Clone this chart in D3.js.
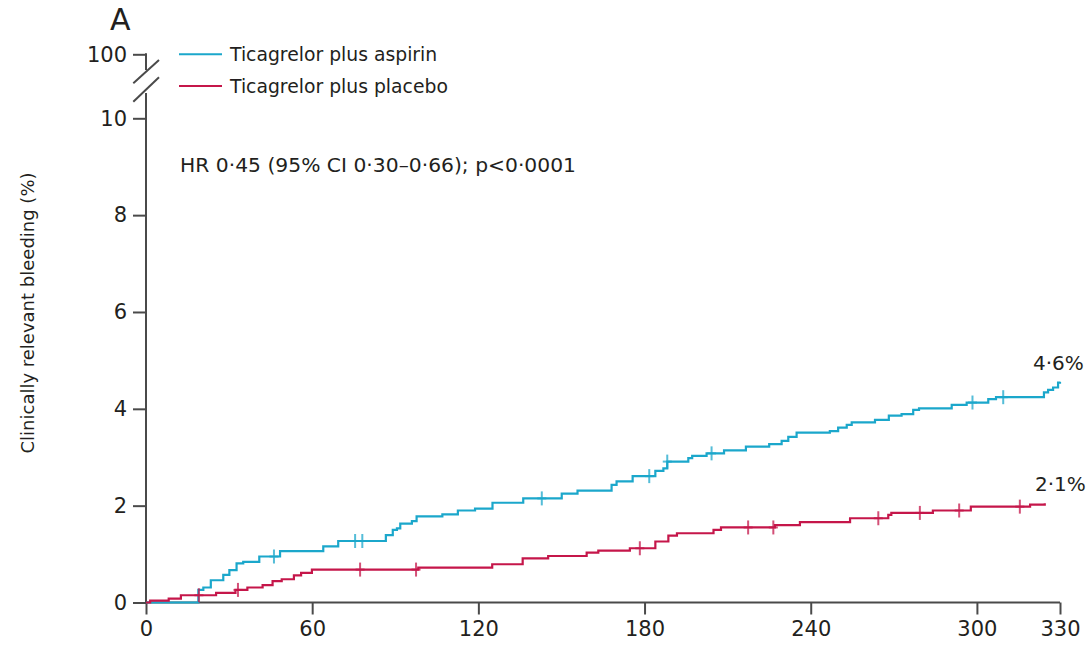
<!DOCTYPE html>
<html>
<head>
<meta charset="utf-8">
<script src="https://cdn.jsdelivr.net/npm/d3@7"></script>
<style>
  html, body { margin: 0; padding: 0; background: #fff; }
  svg { display: block; }
  text { font-family: "DejaVu Sans", sans-serif; fill: #231f20; }
</style>
</head>
<body>
<svg id="chart" width="1091" height="649"></svg>
<script>
// ---- data ----
const seriesNames = ["Ticagrelor plus aspirin", "Ticagrelor plus placebo"];
const seriesColors = ["#1ba7cb", "#c5164a"];
const endLabels = ["4·6%", "2·1%"];
const xTickValues = [0, 60, 120, 180, 240, 300, 330];
const yTickValues = [0, 2, 4, 6, 8, 10];
const yBreakTickValues = [100];
const annotation = "HR 0·45 (95% CI 0·30–0·66); p<0·0001";
const yTitle = "Clinically relevant bleeding (%)";
const panelLabel = "A";

const aspirinDays = [0, 18.9, 20.7, 23.4, 27.9, 30.1, 32.7, 35.1, 40.9, 48.4, 64.0, 69.4,
  86.6, 89.1, 90.6, 91.8, 96.0, 97.7, 107.0, 112.6, 118.8, 125.1, 136.2, 150.1, 155.8,
  168.1, 169.9, 175.7, 183.9, 186.8, 188.2, 195.8, 197.2, 202.4, 208.7, 216.6, 225.0,
  229.5, 231.9, 234.9, 246.9, 249.9, 253.0, 254.8, 263.2, 268.2, 272.8, 277.0, 279.1,
  290.9, 296.3, 304.1, 306.9, 324.2, 325.7, 327.5, 329.3, 330];
const aspirinPct = [0, 0.26, 0.31, 0.46, 0.57, 0.67, 0.81, 0.84, 0.95, 1.06, 1.16, 1.27,
  1.39, 1.50, 1.53, 1.63, 1.68, 1.78, 1.82, 1.90, 1.94, 2.06, 2.15, 2.25, 2.31,
  2.43, 2.50, 2.61, 2.72, 2.77, 2.91, 2.98, 3.03, 3.08, 3.14, 3.22, 3.27,
  3.34, 3.42, 3.51, 3.54, 3.61, 3.67, 3.72, 3.77, 3.86, 3.89, 3.98, 4.01,
  4.08, 4.13, 4.20, 4.24, 4.34, 4.39, 4.44, 4.54, 4.56];
const aspirinCensor = [46.2, 75.5, 78.1, 142.9, 181.7, 188.2, 204.2, 298.4, 309.5];

const placeboDays = [0, 1.5, 8.2, 12.6, 25.3, 32.3, 36.6, 42.1, 45.7, 49.0, 53.4, 56.0,
  59.9, 98.3, 125.0, 136.0, 145.2, 159.1, 163.3, 174.7, 183.9, 188.6, 191.7, 204.9,
  207.6, 227.1, 236.1, 254.2, 268.0, 269.1, 284.1, 297.8, 319.2, 324.5];
const placeboPct = [0, 0.04, 0.08, 0.15, 0.20, 0.26, 0.31, 0.36, 0.44, 0.48, 0.56, 0.61,
  0.68, 0.72, 0.79, 0.91, 0.96, 1.03, 1.07, 1.12, 1.26, 1.38, 1.43, 1.50,
  1.55, 1.60, 1.66, 1.74, 1.81, 1.85, 1.90, 1.98, 2.02, 2.05];
const placeboCensor = [19.1, 33.2, 77.3, 97.5, 178.3, 217.4, 226.5, 264.4, 279.4, 293.6, 315.5];

// ---- layout ----
const svg = d3.select("#chart");
const x = d3.scaleLinear().domain([0, 330]).range([146, 1060]);
const y = d3.scaleLinear().domain([0, 10]).range([602.5, 118.3]);
const yTop = d3.scaleLinear().domain([10, 100]).range([118.3, 54.3]);
const axisColor = "#4a4a4a";

// x axis
const gx = svg.append("g").attr("transform", `translate(0,${y(0)})`)
  .call(d3.axisBottom(x).tickValues(xTickValues).tickSize(12).tickPadding(6).tickFormat(d3.format("d")));
// y axis lower part
const gy = svg.append("g").attr("transform", `translate(${x(0)},0)`)
  .call(d3.axisLeft(y).tickValues(yTickValues).tickSize(13).tickPadding(6).tickFormat(d3.format("d")));
// y axis above the break
const gyTop = svg.append("g").attr("transform", `translate(${x(0)},0)`)
  .call(d3.axisLeft(yTop).tickValues(yBreakTickValues).tickSize(13).tickPadding(6).tickFormat(d3.format("d")));

[gx, gy, gyTop].forEach(g => {
  g.selectAll(".domain").remove();
  g.selectAll(".tick line").attr("stroke", axisColor).attr("stroke-width", 2);
  g.selectAll(".tick text").style("font-family", '"DejaVu Sans", sans-serif')
    .style("font-size", "21px").attr("fill", "#231f20");
});
gx.selectAll(".tick text").attr("dy", "0.72em");

// axis lines
svg.append("line").attr("x1", x(0)).attr("x2", x(330)).attr("y1", y(0)).attr("y2", y(0))
  .attr("stroke", axisColor).attr("stroke-width", 2);
svg.append("line").attr("x1", x(0)).attr("x2", x(0)).attr("y1", y(0) + 1).attr("y2", 93)
  .attr("stroke", axisColor).attr("stroke-width", 2);
svg.append("line").attr("x1", x(0)).attr("x2", x(0)).attr("y1", yTop(100) - 1).attr("y2", 70)
  .attr("stroke", axisColor).attr("stroke-width", 2);
// break marks
[[83.3, 60], [101.7, 77.3]].forEach(([ya, yb]) => {
  svg.append("line").attr("x1", x(0) - 12.7).attr("y1", ya).attr("x2", x(0) + 13).attr("y2", yb)
    .attr("stroke", axisColor).attr("stroke-width", 2);
});

// curves
const line = d3.line().curve(d3.curveStepAfter).x(d => x(d[0])).y(d => y(d[1]));
const series = [
  { days: aspirinDays, pct: aspirinPct, censor: aspirinCensor, color: seriesColors[0] },
  { days: placeboDays, pct: placeboPct, censor: placeboCensor, color: seriesColors[1] }
];
series.forEach(s => {
  const pts = s.days.map((d, i) => [d, s.pct[i]]);
  svg.append("path").datum(pts).attr("d", line).attr("fill", "none")
    .attr("stroke", s.color).attr("stroke-width", 2.2);
  const valueAt = t => s.pct[Math.max(0, d3.bisectRight(s.days, t) - 1)];
  const g = svg.append("g").attr("stroke", s.color).attr("stroke-width", 2).attr("opacity", 0.75);
  s.censor.forEach(t => {
    const cx = x(t), cy = y(valueAt(t));
    g.append("line").attr("x1", cx).attr("x2", cx).attr("y1", cy - 7).attr("y2", cy + 7);
    g.append("line").attr("x1", cx - 4.5).attr("x2", cx + 4.5).attr("y1", cy).attr("y2", cy);
  });
});

// end labels
svg.append("text").attr("x", 1033).attr("y", 370).style("font-size", "20px").text(endLabels[0]);
svg.append("text").attr("x", 1035).attr("y", 491).style("font-size", "20px").text(endLabels[1]);

// legend
seriesNames.forEach((name, i) => {
  const ly = [54.3, 86][i];
  svg.append("line").attr("x1", 179).attr("x2", 222).attr("y1", ly).attr("y2", ly)
    .attr("stroke", seriesColors[i]).attr("stroke-width", 2);
  svg.append("text").attr("x", 230).attr("y", ly + 7).style("font-size", "18.8px").text(name);
});

// annotation
svg.append("text").attr("x", 180).attr("y", 172).style("font-size", "19px")
  .attr("textLength", 396).attr("lengthAdjust", "spacingAndGlyphs").text(annotation);

// y title
svg.append("text").attr("transform", "translate(34,313) rotate(-90)")
  .attr("text-anchor", "middle").style("font-size", "18px").text(yTitle);

// panel label
svg.append("text").attr("x", 110).attr("y", 30).style("font-size", "30px").text(panelLabel);
</script>
</body>
</html>
